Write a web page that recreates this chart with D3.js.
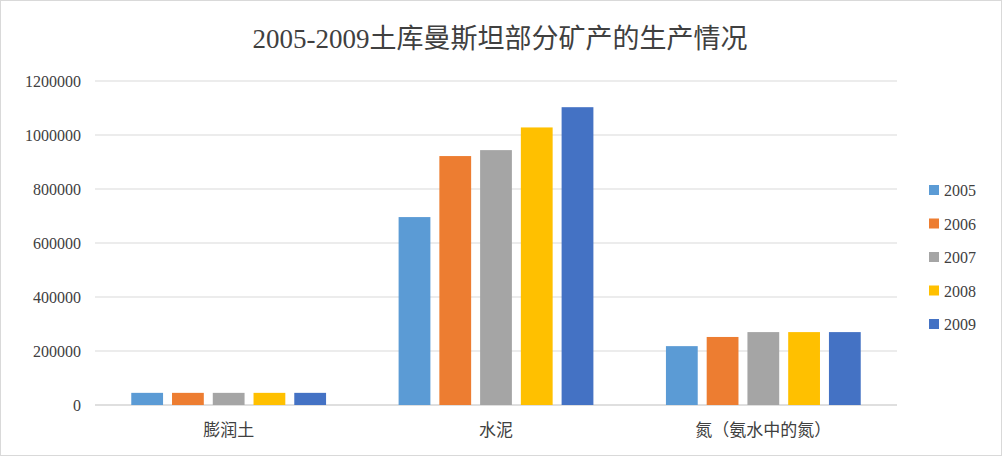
<!DOCTYPE html>
<html><head><meta charset="utf-8">
<script src="https://cdn.jsdelivr.net/npm/d3@7"></script>
<style>body{margin:0;background:#fff}text{font-family:"Liberation Serif","Noto Sans CJK SC",serif;fill:#404040}</style>
</head><body><svg id="c" width="1002" height="456"></svg>
<script>
const categories = ["膨润土", "水泥", "氮（氨水中的氮）"];
const years = ["2005", "2006", "2007", "2008", "2009"];
const values = {
  "2005": [45000, 696000, 218000],
  "2006": [45000, 922000, 252000],
  "2007": [45000, 944000, 270000],
  "2008": [45000, 1028000, 270000],
  "2009": [45000, 1103000, 270000]
};
const colors = ["#5B9BD5", "#ED7D31", "#A5A5A5", "#FFC000", "#4472C4"];
const ticks = [0, 200000, 400000, 600000, 800000, 1000000, 1200000];

const svg = d3.select("#c");
svg.append("rect").attr("x", 0.5).attr("y", 0.5).attr("width", 1001).attr("height", 455)
  .attr("fill", "#fff").attr("stroke", "#d9d9d9");
svg.append("text").attr("x", 500).attr("y", 48).attr("text-anchor", "middle")
  .style("font-size", "27px").text("2005-2009土库曼斯坦部分矿产的生产情况");

const x = d3.scaleBand().domain(categories).range([95, 897]);
const y = d3.scaleLinear().domain([0, 1200000]).range([405, 81]);
const xi = d3.scaleBand().domain(years).range([0, x.bandwidth()]).paddingInner(0.22).paddingOuter(0.89);

const grid = svg.append("g");
ticks.forEach(t => {
  grid.append("line").attr("x1", 95).attr("x2", 897).attr("y1", y(t)).attr("y2", y(t))
    .attr("stroke", t === 0 ? "#bfbfbf" : "#d9d9d9");
  grid.append("text").attr("x", 81).attr("y", y(t) + 6).attr("text-anchor", "end")
    .style("font-size", "16px").text(t);
});

years.forEach((yr, i) => {
  svg.append("g").selectAll("rect").data(values[yr]).join("rect")
    .attr("x", (d, j) => x(categories[j]) + xi(yr))
    .attr("width", xi.bandwidth())
    .attr("y", d => y(d)).attr("height", d => y(0) - y(d))
    .attr("fill", colors[i]);
  svg.append("rect").attr("x", 929).attr("y", 185 + i * 33.5).attr("width", 10).attr("height", 10).attr("fill", colors[i]);
  svg.append("text").attr("x", 944).attr("y", 196 + i * 33.5).style("font-size", "16px").text(yr);
});

categories.forEach(c => {
  svg.append("text").attr("x", x(c) + x.bandwidth() / 2).attr("y", 436).attr("text-anchor", "middle")
    .style("font-size", "17px").text(c);
});
</script></body></html>
